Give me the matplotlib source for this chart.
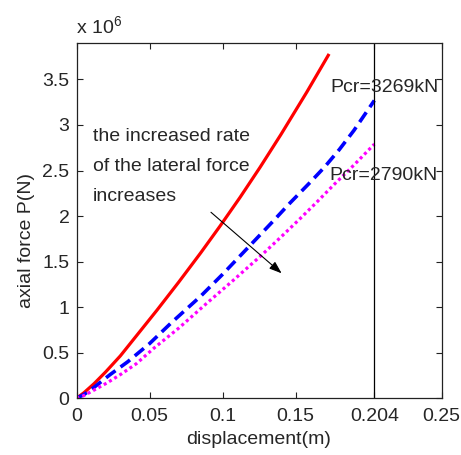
import matplotlib
matplotlib.use("Agg")
import matplotlib.pyplot as plt

plt.rcParams["font.family"] = ["Liberation Sans", "DejaVu Sans"]
plt.rcParams["mathtext.default"] = "regular"
plt.rcParams["lines.scale_dashes"] = False

# axial force (x 10^6 N) versus lateral displacement (m)
disp_solid = [0, 0.005, 0.012, 0.020, 0.030, 0.0435, 0.055, 0.070, 0.085, 0.0983,
              0.112, 0.1257, 0.140, 0.1577, 0.173]
force_solid = [0, 0.06, 0.16, 0.29, 0.465, 0.735, 0.965, 1.275, 1.595, 1.89,
               2.205, 2.535, 2.895, 3.36, 3.78]

disp_dashed = [0, 0.005, 0.012, 0.023, 0.035, 0.050, 0.065, 0.085, 0.100, 0.119,
               0.135, 0.146, 0.160, 0.170, 0.180, 0.190, 0.204]
force_dashed = [0, 0.04, 0.12, 0.26, 0.40, 0.60, 0.83, 1.12, 1.36, 1.68,
                1.95, 2.14, 2.37, 2.54, 2.73, 2.94, 3.269]

disp_dotted = [0, 0.005, 0.012, 0.021, 0.031, 0.041, 0.053, 0.070, 0.089, 0.107,
               0.126, 0.140, 0.153, 0.165, 0.176, 0.190, 0.204]
force_dotted = [0, 0.03, 0.09, 0.17, 0.27, 0.38, 0.55, 0.77, 1.04, 1.29,
                1.56, 1.77, 1.97, 2.16, 2.34, 2.56, 2.79]

critical_disp = 0.204
x_ticks = [0, 0.05, 0.1, 0.15, 0.204, 0.25]
x_tick_labels = ["0", "0.05", "0.1", "0.15", "0.204", "0.25"]
y_ticks = [0, 0.5, 1, 1.5, 2, 2.5, 3, 3.5]
y_tick_labels = ["0", "0.5", "1", "1.5", "2", "2.5", "3", "3.5"]
note_lines = ["the increased rate", "of the lateral force", "increases"]
pcr_labels = ["Pcr=3269kN", "Pcr=2790kN"]

txt = "#262626"
fs = 14

fig = plt.figure(figsize=(4.61, 4.55), dpi=100)
ax = fig.add_axes([76.5 / 461, 1 - 398.3 / 455, 365 / 461, 355.3 / 455])

ax.plot(disp_solid, force_solid, color="#ff0000", lw=2.3, solid_capstyle="butt",
        solid_joinstyle="round")
ax.plot(disp_dashed, force_dashed, color="#0000ff", lw=2.6, dashes=(8.5, 4.5),
        dash_capstyle="butt")
ax.plot(disp_dotted, force_dotted, color="#ff00ff", lw=2.3, dashes=(2.2, 2.2),
        dash_capstyle="butt")
ax.axvline(critical_disp, color="black", lw=0.9)

ax.set_xlim(0, 0.25)
ax.set_ylim(0, 3.9)
ax.set_xticks(x_ticks)
ax.set_xticklabels(x_tick_labels)
ax.set_yticks(y_ticks)
ax.set_yticklabels(y_tick_labels)
ax.tick_params(direction="in", top=True, right=True, length=4, width=0.8,
               labelsize=fs, labelcolor=txt, color="#222222")
ax.tick_params(axis="x", pad=7)
ax.tick_params(axis="y", pad=5)
for s in ax.spines.values():
    s.set_linewidth(0.9)
    s.set_color("#222222")

ax.set_xlabel("displacement(m)", fontsize=fs, color=txt, labelpad=4)
ax.set_ylabel("axial force P(N)", fontsize=fs, color=txt)
ax.yaxis.label.set_verticalalignment("center")
ax.yaxis.set_label_coords(-0.138, 0.445)

ax.text(0, 1.018, "x 10$^{6}$", transform=ax.transAxes, fontsize=fs, color=txt,
        ha="left", va="bottom")

for line, y in zip(note_lines, [2.87, 2.54, 2.22]):
    ax.text(0.0113, y, line, fontsize=fs, color=txt, ha="left", va="center")

ax.text(0.1736, 3.414, pcr_labels[0], fontsize=fs, color=txt, ha="left", va="center")
ax.text(0.1732, 2.451, pcr_labels[1], fontsize=fs, color=txt, ha="left", va="center")

ax.annotate("", xy=(0.1405, 1.372), xytext=(0.0921, 2.042),
            arrowprops=dict(arrowstyle="-|>,head_length=0.75,head_width=0.27",
                            color="black", lw=0.8, shrinkA=0, shrinkB=0))

fig.savefig("out.png", dpi=100)
